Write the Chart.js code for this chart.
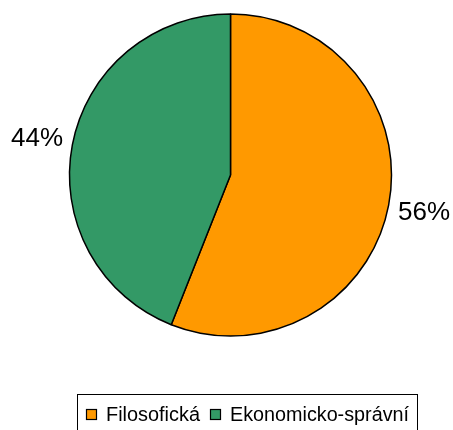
<!DOCTYPE html>
<html>
<head>
<meta charset="utf-8">
<script src="https://cdn.jsdelivr.net/npm/chart.js@4/dist/chart.umd.min.js"></script>
<style>
  html, body { margin: 0; padding: 0; background: #fff; }
  #wrap { width: 453px; height: 430px; }
</style>
</head>
<body>
<div id="wrap"><canvas id="pieChart" width="453" height="430"></canvas></div>
<script>
// data
var kategorie = ["Filosofická", "Ekonomicko-správní"];
var podily = [56, 44];
var barvy = ["#FF9900", "#339966"];

var fontName = "'Liberation Sans', Arial, sans-serif";

// percentage labels outside the slices
var popisky = {
    id: "popisky",
    afterDatasetsDraw: function(chart){
        var ctx = chart.ctx;
        var meta = chart.getDatasetMeta(0);
        var celkem = podily.reduce(function(a, b){ return a + b; }, 0);
        ctx.save();
        ctx.font = "26px " + fontName;
        ctx.fillStyle = "#000";
        ctx.textAlign = "center";
        ctx.textBaseline = "middle";
        meta.data.forEach(function(arc, i){
            var uhel = (arc.startAngle + arc.endAngle) / 2;
            var r = arc.outerRadius + 36;
            var x = arc.x + Math.cos(uhel) * r;
            var y = arc.y + Math.sin(uhel) * r + 1;
            ctx.fillText(Math.round(podily[i] / celkem * 100) + "%", x, y);
        });
        ctx.restore();
    }
};

// legend in a box at the bottom
var legenda = {
    id: "legenda",
    afterDraw: function(chart){
        var ctx = chart.ctx;
        var polozky = [{ x: 86, w: 94 }, { x: 210, w: 179 }];
        ctx.save();
        ctx.strokeStyle = "#000";
        ctx.lineWidth = 1;
        ctx.strokeRect(77.5, 394.5, 340, 45);
        ctx.font = "20px " + fontName;
        ctx.textBaseline = "alphabetic";
        ctx.textAlign = "left";
        kategorie.forEach(function(nazev, i){
            var x = polozky[i].x;
            ctx.fillStyle = barvy[i];
            ctx.fillRect(x, 409.5, 10, 10);
            ctx.strokeStyle = "#000";
            ctx.lineWidth = 1.2;
            ctx.strokeRect(x + 0.5, 409.5, 10, 10);
            ctx.fillStyle = "#000";
            ctx.fillText(nazev, x + 20, 421, polozky[i].w);
        });
        ctx.restore();
    }
};

var ctx = document.getElementById("pieChart").getContext("2d");
var graf = new Chart(ctx, {
    type: "pie",
    data: {
        labels: kategorie,
        datasets: [{
            data: podily,
            backgroundColor: barvy,
            borderColor: "#000",
            borderWidth: 1.5,
            radius: 161
        }]
    },
    options: {
        responsive: false,
        animation: false,
        layout: { padding: { left: 50, right: 42, top: 0, bottom: 80 } },
        plugins: {
            legend: { display: false },
            tooltip: { enabled: false }
        }
    },
    plugins: [popisky, legenda]
});
</script>
</body>
</html>
